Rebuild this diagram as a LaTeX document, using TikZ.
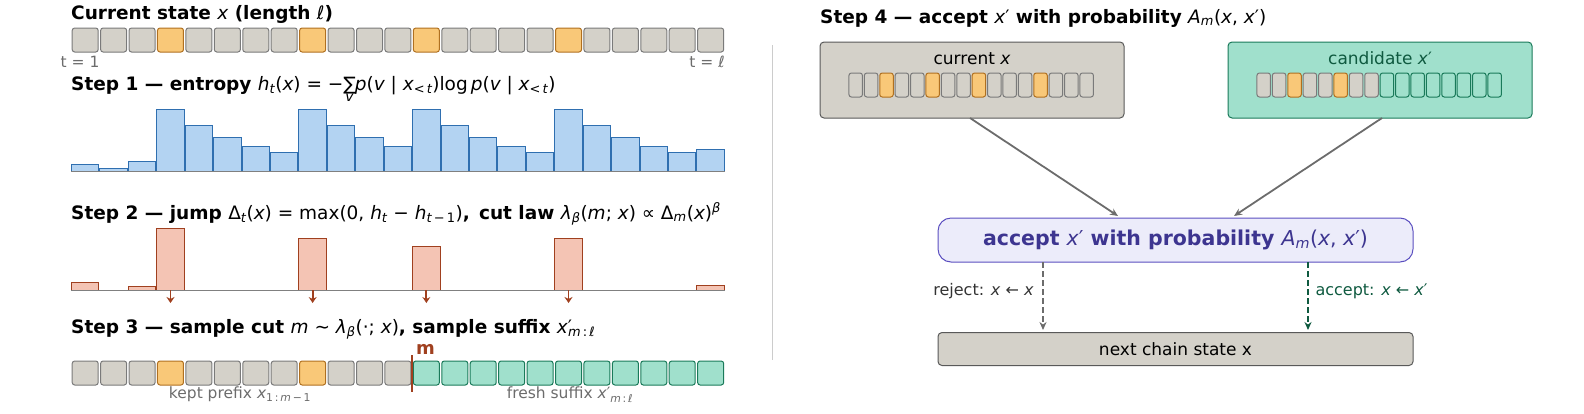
\documentclass[tikz,border=0pt]{standalone}
\usepackage{fontspec}
\setmainfont{DejaVu Sans}
\usetikzlibrary{arrows.meta}
\definecolor{gfill}{HTML}{D4D1C9}\definecolor{gdraw}{HTML}{7A7A7A}
\definecolor{ofill}{HTML}{F9C878}\definecolor{odraw}{HTML}{B07020}
\definecolor{bfill}{HTML}{B3D3F2}\definecolor{bdraw}{HTML}{2F6FB0}
\definecolor{rfill}{HTML}{F4C4B4}\definecolor{rdraw}{HTML}{A0401F}
\definecolor{tfill}{HTML}{A0E0CC}\definecolor{tdraw}{HTML}{1A7A5A}
\definecolor{pfill}{HTML}{ECECFA}\definecolor{pdraw}{HTML}{5B4FC0}\definecolor{ptext}{HTML}{3D3590}
\definecolor{adark}{HTML}{0F5A40}
\newcommand\vi[1]{{\mdseries\itshape #1}}
\newcommand\sbs[1]{\textsubscript{#1}}
\tikzset{
 cell/.style={draw=gdraw,fill=gfill,rounded corners=2.5pt,minimum width=26pt,minimum height=24pt,inner sep=0,line width=1pt},
 ocell/.style={cell,draw=odraw,fill=ofill},
 tcell/.style={cell,draw=tdraw,fill=tfill},
 scell/.style={cell,minimum width=13.5pt,minimum height=24pt,rounded corners=1.5pt},
 title/.style={anchor=base west,font=\fontsize{18.5}{20}\selectfont\bfseries,inner sep=0},
 lab/.style={font=\fontsize{15.5}{17}\selectfont,text=gray!85!black,inner sep=0},
 bbar/.style={draw=bdraw,fill=bfill,line width=1pt},
 rbar/.style={draw=rdraw,fill=rfill,line width=1pt},
 box/.style={rounded corners=4pt,line width=1pt},
 conn/.style={-{Stealth[length=8pt,width=7pt]},line width=1.8pt,draw=gray!85!black},
}
\begin{document}
\begin{tikzpicture}[x=1pt,y=-1pt]
\useasboundingbox (0,0) rectangle (1584,413);
% ---------- row 0
\node[title] (t0) at (71,19) {Current state \vi{x} (length \vi{ℓ})};
\foreach \i in {0,...,22}{
  \pgfmathsetmacro\cx{71+14.2+\i*28.43}
  \ifnum\i=3 \def\st{ocell}\else\ifnum\i=8 \def\st{ocell}\else\ifnum\i=12 \def\st{ocell}\else\ifnum\i=17 \def\st{ocell}\else\def\st{cell}\fi\fi\fi\fi
  \node[\st] (a\i) at (\cx,40) {};
}
\node[lab,anchor=north west] (t1) at (60.5,56) {t = 1};
\node[lab,anchor=north east] (tl) at (725,56) {t = \vi{ℓ}};
% ---------- step 1
\node[title] (s1) at (71,90) {Step 1 — entropy {\mdseries\vi{h}\sbs{\vi{t}}(\vi{x}) = −\makebox[0pt][l]{\kern2pt\raisebox{-11pt}{\fontsize{14}{14}\selectfont\vi{v}}}∑\kern-1pt\vi{p}(\vi{v} | \vi{x}\sbs{<\,\vi{t}})log\,\vi{p}(\vi{v} | \vi{x}\sbs{<\,\vi{t}})}};
\foreach \h [count=\i from 0] in {7,3,10,62,46,34,25,19,62,46,34,25,62,46,34,25,19,62,46,34,25,19,22}{
  \pgfmathsetmacro\xl{71+\i*28.43+0.5}
  \draw[bbar] (\xl,171) rectangle ++(27.4,-\h);
}
\draw[gray,line width=1pt] (71,171.5) -- (725,171.5);
% ---------- step 2
\node[title] (s2) at (71,219) {Step 2 — jump {\mdseries Δ\sbs{\vi{t}}(\vi{x}) = max(0, \vi{h}\sbs{\vi{t}} − \vi{h}\sbs{\vi{t}\,−\,1})},\enspace cut law {\mdseries\vi{λ}\sbs{\vi{β}}(\vi{m}; \vi{x}) ∝ Δ\sbs{\vi{m}}(\vi{x})\textsuperscript{\vi{β}}}};
\foreach \i/\h in {0/8,2/4,3/62,8/52,12/44,17/52,22/5}{
  \pgfmathsetmacro\xl{71+\i*28.43+0.5}
  \draw[rbar] (\xl,290) rectangle ++(27.4,-\h);
}
\draw[gray,line width=1pt] (71,290) -- (725,290);
\foreach \i in {3,8,12,17}{
  \pgfmathsetmacro\cx{71+14.2+\i*28.43}
  \coordinate (d\i) at (\cx,290);
  \draw[rdraw,line width=1.8pt,-{Stealth[length=6pt,width=8pt]}] (d\i) -- ++(0,13);
}
% ---------- step 3
\node[title] (s3) at (71,333) {Step 3 — sample cut {\mdseries\vi{m} ∼ \vi{λ}\sbs{\vi{β}}(·; \vi{x})}, sample suffix {\mdseries\vi{x}′\kern-4pt\sbs{\vi{m}\,:\,\vi{ℓ}}}};
\foreach \i in {0,...,22}{
  \pgfmathsetmacro\cx{71+14.2+\i*28.43}
  \ifnum\i=3 \def\st{ocell}\else\ifnum\i=8 \def\st{ocell}\else\ifnum\i>11 \def\st{tcell}\else\def\st{cell}\fi\fi\fi
  \node[\st] (b\i) at (\cx,373) {};
}
\draw[rdraw,line width=2.5pt] (412.2,355) -- (412.2,392);
\node[font=\fontsize{18}{20}\selectfont\bfseries,text=rdraw,anchor=base west,inner sep=0] (m) at (416,354) {m};
\node[lab,anchor=north] (kp) at (240,387) {kept prefix \vi{x}\sbs{1\,:\,\vi{m}\,−\,1}};
\node[lab,anchor=north] (fs) at (570,387) {fresh suffix \vi{x}′\sbs{\vi{m}\,:\,\vi{ℓ}}};
% separator
\draw[gray!40,line width=1pt] (772,45) -- (772,360);
% ---------- step 4
\node[title] (s4) at (820,23) {Step 4 — accept {\mdseries\vi{x}′} with probability {\mdseries\vi{A}\sbs{\vi{m}}(\vi{x}, \vi{x}′)}};
\draw[box,draw=gray!70!black,fill=gfill] (820,42) rectangle (1124,118);
\node (cur) at (972,80) [minimum width=304pt,minimum height=76pt] {};
\node[font=\fontsize{17}{19}\selectfont,anchor=base] (curl) at (972,64) {current \vi{x}};
\foreach \i in {0,...,15}{
  \pgfmathsetmacro\cx{848+7.7+\i*15.4}
  \ifnum\i=2 \def\st{ocell}\else\ifnum\i=5 \def\st{ocell}\else\ifnum\i=8 \def\st{ocell}\else\ifnum\i=12 \def\st{ocell}\else\def\st{cell}\fi\fi\fi\fi
  \node[scell,\st,minimum width=13.5pt] (c\i) at (\cx,85) {};
}
\draw[box,draw=tdraw,fill=tfill] (1228,42) rectangle (1532,118);
\node (cand) at (1380,80) [minimum width=304pt,minimum height=76pt] {};
\node[font=\fontsize{17}{19}\selectfont,anchor=base,text=adark] (candl) at (1380,64) {candidate \vi{x}′};
\foreach \i in {0,...,15}{
  \pgfmathsetmacro\cx{1256+7.7+\i*15.4}
  \ifnum\i=2 \def\st{ocell}\else\ifnum\i=5 \def\st{ocell}\else\ifnum\i>7 \def\st{tcell}\else\def\st{cell}\fi\fi\fi
  \node[scell,\st,minimum width=13.5pt] (e\i) at (\cx,85) {};
}
\node[draw=pdraw,fill=pfill,rounded corners=13pt,line width=1pt,minimum width=475pt,minimum height=44pt,
  font=\fontsize{20.5}{22}\selectfont\bfseries,text=ptext] (acc) at (1175.5,240) {accept {\mdseries\vi{x}′} with probability {\mdseries\vi{A}\sbs{\vi{m}}(\vi{x}, \vi{x}′)}};
\node[draw=gray!70!black,fill=gfill,rounded corners=4pt,line width=1pt,minimum width=475pt,minimum height=33pt,
  font=\fontsize{17}{19}\selectfont] (next) at (1175.5,349) {next chain state x};
\coordinate (p1) at (970,118); \coordinate (p2) at (1382,118);
\coordinate (q1) at (1118,216); \coordinate (q2) at (1234,216);
\draw[conn] (p1) -- (q1);
\draw[conn] (p2) -- (q2);
\coordinate (r1) at (1043,262); \coordinate (r2) at (1043,330);
\coordinate (u1) at (1308,262); \coordinate (u2) at (1308,330);
\draw[conn,dash pattern=on 6pt off 3pt] (r1) -- (r2);
\draw[conn,dash pattern=on 6pt off 3pt,draw=adark] (u1) -- (u2);
\node[font=\fontsize{16}{18}\selectfont,text=gray!40!black,anchor=east] (rej) at (1037,291) {reject: \vi{x} ← \vi{x}};
\node[font=\fontsize{16}{18}\selectfont,text=adark,anchor=west] (acl) at (1312,291) {accept: \vi{x} ← \vi{x}′};
\end{tikzpicture}
\end{document}
